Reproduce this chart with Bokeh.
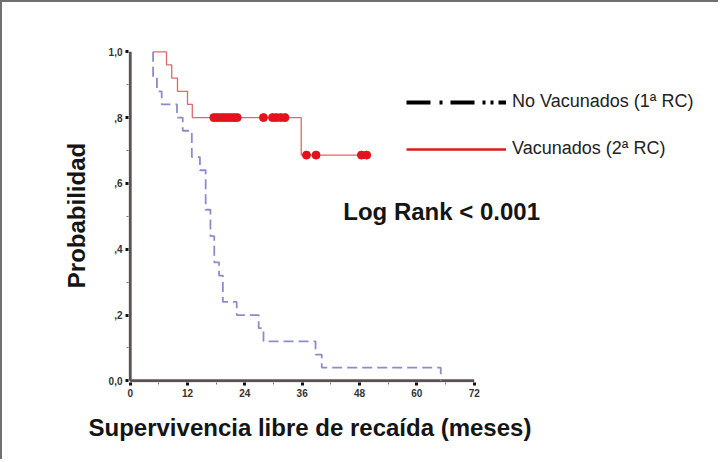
from bokeh.plotting import figure
from bokeh.models import Range1d, FixedTicker, Label, Legend, LegendItem, Title
from bokeh.embed import file_html
from bokeh.resources import INLINE

# ---- data (months, survival probability) ----
no_vac_t = [4.8, 4.8, 5.6, 6.6, 9.8, 11.0, 12.9, 14.6, 15.8, 16.8, 17.6, 18.6, 19.4, 22.3, 26.9, 27.9, 38.8, 40.1, 65.0]
no_vac_s = [1.00, 0.92, 0.88, 0.84, 0.80, 0.76, 0.68, 0.64, 0.52, 0.44, 0.36, 0.32, 0.24, 0.20, 0.16, 0.12, 0.08, 0.04, 0.00]

vac_t = [4.8, 7.6, 8.7, 9.9, 12.0, 13.0, 35.8, 49.7]
vac_s = [1.00, 0.96, 0.92, 0.88, 0.84, 0.80, 0.686, 0.686]

vac_cens_t = [17.5, 18.2, 18.9, 19.6, 20.3, 21.0, 21.7, 22.4, 27.9, 29.8, 30.6, 31.5, 32.4, 36.9, 38.9, 48.4, 49.5]
vac_cens_s = [0.80] * 13 + [0.686] * 4

x_ticks = [0, 12, 24, 36, 48, 60, 72]
x_minor = [6, 18, 30, 42, 54, 66]
y_ticks = [0.0, 0.2, 0.4, 0.6, 0.8, 1.0]
y_minor = [0.1, 0.3, 0.5, 0.7, 0.9]
y_labels = ["0,0", ",2", ",4", ",6", ",8", "1,0"]

legend_labels = ["No Vacunados (1ª RC)", "Vacunados (2ª RC)"]
x_title = "Supervivencia libre de recaída (meses)"
y_title = "Probabilidad"
stat_text = "Log Rank < 0.001"

FONT = "Liberation Sans"
AXIS_COLOR = "#5a5252"

# frame spans to the right edge so that legend and note are not clipped;
# the x axis itself is bounded to 0..72 months
p = figure(width=718, height=459, output_backend="svg", toolbar_location=None,
           x_range=Range1d(-0.35, 123.55), y_range=Range1d(-0.005, 1.01),
           min_border_left=126, min_border_right=0, min_border_top=46, min_border_bottom=79)
p.outline_line_color = None
p.xgrid.visible = False
p.ygrid.visible = False
p.styles = {"border-top": "2px solid #707070", "border-left": "2px solid #707070"}

for ax in (p.xaxis[0], p.yaxis[0]):
    ax.axis_line_color = None
    ax.major_tick_line_color = "#111111"
    ax.major_tick_line_width = 3
    ax.major_tick_out = 3
    ax.major_tick_in = 0
    ax.minor_tick_line_color = "#777777"
    ax.minor_tick_line_width = 1
    ax.minor_tick_out = 2
    ax.minor_tick_in = 0
    ax.major_label_text_font = FONT
    ax.major_label_text_font_size = "10px"
    ax.major_label_text_font_style = "bold"
    ax.major_label_text_color = "#333333"
    ax.major_label_standoff = 3
    ax.axis_label_text_font = FONT
    ax.axis_label_text_font_size = "24px"
    ax.axis_label_text_font_style = "bold"
    ax.axis_label_text_color = "#151515"

p.xaxis[0].bounds = (x_ticks[0], x_ticks[-1])
p.xaxis[0].ticker = FixedTicker(ticks=x_ticks, minor_ticks=x_minor)
p.yaxis[0].ticker = FixedTicker(ticks=y_ticks, minor_ticks=y_minor)
p.yaxis[0].major_label_overrides = {v: l for v, l in zip(y_ticks, y_labels)}
p.yaxis[0].axis_label = y_title
p.yaxis[0].axis_label_standoff = 16

# axis rules drawn as glyphs along the tick extents
p.segment(x0=[x_ticks[0], x_ticks[0]], y0=[y_ticks[0], y_ticks[0]],
          x1=[x_ticks[-1], x_ticks[0]], y1=[y_ticks[0], y_ticks[-1]],
          line_color=AXIS_COLOR, line_width=3)

p.add_layout(Title(text=x_title, align="left", offset=-40, standoff=25,
                   text_font=FONT, text_font_size="24px", text_font_style="bold",
                   text_color="#151515"), "below")

# curves
p.step(no_vac_t, no_vac_s, mode="after", line_color="#8c8ccc", line_width=1.8, line_dash="10 5")
p.step(vac_t, vac_s, mode="after", line_color="#e06868", line_width=1.3)
p.scatter(vac_cens_t, vac_cens_s, size=8, fill_color="#e4121c", line_color="#e4121c")

# legend with its own sample styles (renderers placed outside the visible ranges)
r1 = p.line(x=[-50, -40], y=[-5, -5], line_color="black", line_width=4,
            line_dash="24 9 3 8 24 8 3 5 3 5")
r2 = p.line(x=[-50, -40], y=[-5, -5], line_color="#dd1a1a", line_width=2.5)
legend = Legend(items=[LegendItem(label=legend_labels[0], renderers=[r1]),
                       LegendItem(label=legend_labels[1], renderers=[r2])],
                location=(278, 223), orientation="vertical")
legend.border_line_color = None
legend.background_fill_alpha = 0
legend.padding = 0
legend.margin = 0
legend.spacing = 26
legend.glyph_height = 20
legend.glyph_width = 100
legend.label_height = 20
legend.label_standoff = 6
legend.label_text_font = FONT
legend.label_text_font_size = "18px"
legend.label_text_color = "#222222"
p.add_layout(legend)

p.add_layout(Label(x=44.6, y=0.514, text=stat_text, text_font=FONT, text_font_size="24px",
                   text_font_style="bold", text_color="#151515", text_baseline="alphabetic"))

open("out.html", "w").write(file_html(p, INLINE))
